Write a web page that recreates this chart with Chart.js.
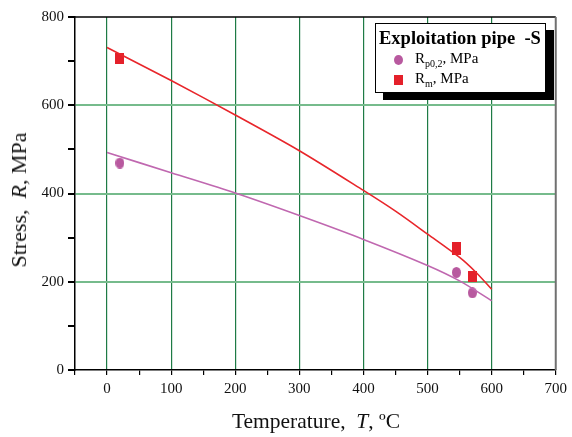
<!DOCTYPE html>
<html>
<head>
<meta charset="utf-8">
<script src="https://cdn.jsdelivr.net/npm/chart.js@4"></script>
<style>
  body { margin: 0; background: #fff; }
  #wrap { position: relative; width: 572px; height: 437px; font-family: 'Liberation Serif', 'Times New Roman', serif; }
  #chart { position: absolute; left: 0; top: 0; }
  .xtitle { position: absolute; left: 0; width: 632px; top: 409px; text-align: center; font-size: 21.5px; color: #111; }
  .ytitle { position: absolute; left: 19px; top: 200px; transform: translate(-50%, -50%) rotate(-90deg); white-space: nowrap; font-size: 22px; color: #111; }
  .legend { position: absolute; left: 375px; top: 23px; width: 169px; height: 68px; background: #fff; border: 1px solid #000; box-shadow: 8px 7px 0 #000; }
  .legend .ttl { position: absolute; left: 3px; top: 4px; font-weight: bold; font-size: 18.5px; white-space: nowrap; }
  .legend .item { position: absolute; left: 39px; font-size: 15px; white-space: nowrap; }
  .legend .item sub { font-size: 10px; }
  .legend .dot { position: absolute; left: 18px; width: 9px; height: 10px; border-radius: 50%; background: #b8599f; }
  .legend .sq { position: absolute; left: 18px; width: 9px; height: 10px; background: #e4202a; }
</style>
</head>
<body>
<div id="wrap">
  <canvas id="chart" width="572" height="437"></canvas>
  <div class="ytitle">Stress,&nbsp; <i>R</i>, MPa</div>
  <div class="xtitle">Temperature,&nbsp; <i>T</i>, ºC</div>
  <div class="legend">
    <div class="ttl">Exploitation pipe&nbsp; -S</div>
    <div class="dot" style="top: 31px;"></div>
    <div class="item" style="top: 26px;">R<sub>p0,2</sub>, MPa</div>
    <div class="sq" style="top: 51px;"></div>
    <div class="item" style="top: 46px;">R<sub>m</sub>, MPa</div>
  </div>
</div>
<script>
// measured points
const rpTemp = [20, 545, 570];
const rpStress = [469, 221, 175];
const rmTemp = [20, 545, 545, 570];
const rmStress = [706, 278, 272, 212];

// fitted curves
const rpFitTemp = [0, 100, 200, 300, 400, 500, 550, 600];
const rpFitStress = [493, 447, 401, 350, 296, 237, 202, 157];
const rmFitTemp = [0, 100, 200, 300, 400, 450, 500, 550, 575, 600];
const rmFitStress = [731, 656, 578, 497, 407, 360, 308, 255, 222, 183];

const xTicks = [0, 100, 200, 300, 400, 500, 600, 700];
const yTicks = [0, 200, 400, 600, 800];

const purple = '#c068b0';
const red = '#e8262b';

function pts(xs, ys)
{
  return xs.map((x, i) => ({x: x, y: ys[i]}));
}

function marker(kind, color)
{
  let cv = document.createElement('canvas');
  cv.width = 9;
  cv.height = 11;
  let ctx = cv.getContext('2d');
  ctx.fillStyle = color;
  if (kind == 'ellipse')
  {
    ctx.beginPath();
    ctx.ellipse(4.5, 5.5, 4.5, 5.5, 0, 0, Math.PI * 2);
    ctx.fill();
  }
  else
  {
    ctx.fillRect(0, 0, 9, 11);
  }
  return cv;
}

const frame = {
  id: 'frame',
  afterDraw(chart)
  {
    const a = chart.chartArea;
    const ctx = chart.ctx;
    ctx.save();
    ctx.strokeStyle = '#000';
    ctx.lineWidth = 1.5;
    ctx.beginPath();
    ctx.moveTo(a.left, a.top);
    ctx.lineTo(a.right, a.top);
    ctx.stroke();
    ctx.strokeStyle = '#707070';
    ctx.lineWidth = 2;
    ctx.beginPath();
    ctx.moveTo(a.right, a.top);
    ctx.lineTo(a.right, a.bottom);
    ctx.stroke();
    ctx.restore();
  }
};

const tickFont = {family: "'Liberation Serif', 'Times New Roman', serif", size: 15};

new Chart(document.getElementById('chart'), {
  type: 'scatter',
  data: {
    datasets: [
      {label: 'Rp fit', type: 'line', data: pts(rpFitTemp, rpFitStress), borderColor: purple, borderWidth: 1.6, pointRadius: 0, tension: 0.3, fill: false},
      {label: 'Rm fit', type: 'line', data: pts(rmFitTemp, rmFitStress), borderColor: red, borderWidth: 1.6, pointRadius: 0, tension: 0.3, fill: false},
      {label: 'Rp0,2, MPa', data: pts(rpTemp, rpStress), pointStyle: marker('ellipse', '#b8599f')},
      {label: 'Rm, MPa', data: pts(rmTemp, rmStress), pointStyle: marker('rect', '#e4202a')}
    ]
  },
  options: {
    responsive: false,
    animation: false,
    layout: {padding: {left: 0, right: 16, top: 17, bottom: 0}},
    plugins: {legend: {display: false}, tooltip: {enabled: false}},
    scales: {
      x: {
        type: 'linear', min: -50, max: 700,
        afterFit: (s) => { s.height = 67; },
        ticks: {
          stepSize: 50, autoSkip: false, color: '#111', font: tickFont, padding: 5,
          callback: (v) => xTicks.includes(v) ? String(v) : ''
        },
        grid: {
          color: (c) => (c.tick && c.tick.value >= 0 && c.tick.value <= 600 && c.tick.value % 100 == 0) ? '#1e7b45' : 'rgba(0,0,0,0)',
          tickColor: '#000', tickLength: 5, lineWidth: 1.2
        },
        border: {color: '#000', width: 1.5}
      },
      y: {
        min: 0, max: 800,
        afterFit: (s) => { s.width = 75; },
        ticks: {
          stepSize: 100, autoSkip: false, color: '#111', font: tickFont, padding: 4,
          callback: (v) => yTicks.includes(v) ? String(v) : ''
        },
        grid: {
          color: (c) => (c.tick && c.tick.value > 0 && c.tick.value < 800 && c.tick.value % 200 == 0) ? '#76bb8c' : 'rgba(0,0,0,0)',
          tickColor: '#000', tickLength: 7, lineWidth: 2
        },
        border: {color: '#000', width: 1.5}
      }
    }
  },
  plugins: [frame]
});
</script>
</body>
</html>
